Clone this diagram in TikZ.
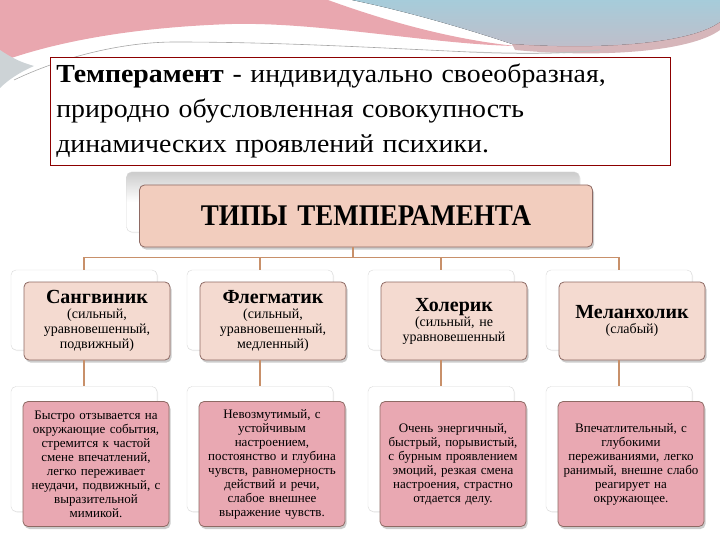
\documentclass[tikz,border=0pt]{standalone}
\usepackage{fontspec}
\setmainfont{Liberation Serif}
\newfontfamily\breitschrift[FakeStretch=1.07]{Liberation Serif}
\newfontfamily\engschrift[FakeStretch=0.9]{Liberation Serif}
\usetikzlibrary{shadows}

\definecolor{linie}{HTML}{C8906A}
\definecolor{rosa}{HTML}{F4DAD0}
\definecolor{titelrosa}{HTML}{F2CDBE}
\definecolor{beschr}{HTML}{E9A8B2}
\definecolor{rand}{HTML}{8E6A64}
\definecolor{rosaoben}{HTML}{E9A7AF}
\definecolor{blauoben}{HTML}{A6CCDA}

\begin{document}
\begin{tikzpicture}[x=1pt,y=-1pt,
  hinten/.style={draw=gray!30, fill=white, rounded corners=5pt,
    minimum width=146pt, drop shadow={shadow xshift=1pt, shadow yshift=-1pt, opacity=.15}},
  vorne/.style={draw=rand, line width=.8pt, rounded corners=5pt, minimum width=146pt,
    align=center, text width=142pt, inner sep=2pt,
    drop shadow={shadow xshift=1.5pt, shadow yshift=-2.5pt, opacity=.4}},
  typ/.style={vorne, fill=rosa, minimum height=78pt, font=\fontsize{14}{15}\selectfont},
  beschreibung/.style={vorne, fill=beschr, minimum height=125pt, font=\fontsize{13}{14}\selectfont},
  verb/.style={draw=linie, line width=1.6pt}]
\def \xs {84}
\def \xp {260}
\def \xc {441}
\def \xm {619}
\useasboundingbox (0,0) rectangle (720,540);

% Dekoration oben
\fill[top color=blauoben, bottom color=blauoben!60!rosaoben] (352,0) -- (720,0) -- (720,22)
  .. controls (690,44) and (600,50) .. (512,44) .. controls (470,30) and (410,12) .. (352,0) -- cycle;
\fill[rosaoben] (0,0) -- (328,0) .. controls (400,26) and (460,40) .. (515,46)
  .. controls (430,44) and (320,22) .. (232,24) .. controls (140,27) and (60,40) .. (0,62) -- cycle;
\fill[rosaoben!80!black, opacity=.6] (512,44) .. controls (600,50) and (690,44) .. (720,22) -- (720,30)
  .. controls (690,52) and (600,58) .. (515,50) -- cycle;
\fill[blauoben!40!gray!45] (0,50) .. controls (12,58) and (20,62) .. (34,66) .. controls (20,72) and (8,80) .. (0,88) -- cycle;
\draw[gray!70, line width=.6pt] (14,80) .. controls (60,58) and (120,42) .. (175,42)
  .. controls (280,42) and (380,48) .. (470,52);
\draw[gray!50, line width=1pt] (470,52) .. controls (520,54) and (560,54) .. (600,50);

% Definition
\node[draw=red!55!black, line width=.6pt, fill=white, anchor=north west, minimum width=620pt,
  minimum height=105pt, text width=608pt, inner xsep=6pt, inner ysep=7pt, align=left,
  font=\breitschrift\fontsize{26}{35}\selectfont, text=black] (def) at (50,57)
  {\textbf{Темперамент} - индивидуально своеобразная,\\
   природно обусловленная совокупность\\
   динамических проявлений психики.};

% Titel
\node[hinten, minimum width=453pt, minimum height=60pt,
  top color=gray!40, bottom color=white, middle color=white] (titelH) at (353,202) {};
\node[vorne, fill=titelrosa, minimum width=453pt, text width=440pt, minimum height=62pt,
  font=\engschrift\fontsize{30}{32}\selectfont\bfseries] (titel) at (366,216) {ТИПЫ ТЕМПЕРАМЕНТА};

% Typen
\foreach \n/\x in {sang/\xs, phleg/\xp, chol/\xc, mel/\xm}
  \node[hinten, minimum height=80pt] (\n H) at (\x,310) {};
\node[typ] (sang) at (\xs+13,321)
  {{\fontsize{20}{22}\selectfont\bfseries Сангвиник}\\(сильный,\\уравновешенный,\\подвижный)};
\node[typ] (phleg) at (\xp+13,321)
  {{\fontsize{20}{22}\selectfont\bfseries Флегматик}\\(сильный,\\уравновешенный,\\медленный)};
\node[typ] (chol) at (\xc+13,321)
  {{\fontsize{20}{22}\selectfont\bfseries Холерик}\\(сильный, не\\уравновешенный};
\node[typ] (mel) at (\xm+13,321)
  {{\fontsize{20}{22}\selectfont\bfseries Меланхолик}\\(слабый)};

% Beschreibungen
\foreach \n/\x in {sang/\xs, phleg/\xp, chol/\xc, mel/\xm}
  \node[hinten, minimum height=125pt] (\n BH) at (\x,449) {};
\node[beschreibung] (sangB) at (\xs+12,464)
  {Быстро отзывается на\\окружающие события,\\стремится к частой\\смене впечатлений,\\легко переживает\\неудачи, подвижный, с\\выразительной\\мимикой.};
\node[beschreibung] (phlegB) at (\xp+12,464)
  {Невозмутимый, с\\устойчивым\\настроением,\\постоянство и глубина\\чувств, равномерность\\действий и речи,\\слабое внешнее\\выражение чувств.};
\node[beschreibung] (cholB) at (\xc+12,464)
  {Очень энергичный,\\быстрый, порывистый,\\с бурным проявлением\\эмоций, резкая смена\\настроения, страстно\\отдается делу.};
\node[beschreibung] (melB) at (\xm+12,464)
  {Впечатлительный, с\\глубокими\\переживаниями, легко\\ранимый, внешне слабо\\реагирует на\\окружающее.};

% Verbindungen
\draw[verb] (titel.south -| titelH) -- ++(0,10) coordinate (knoten);
\draw[verb] (knoten -| sangH) -- (knoten -| melH);
\foreach \n in {sang, phleg, chol, mel} {
  \draw[verb] (knoten -| \n H) -- (\n H.north);
  \draw[verb] (\n.south -| \n H) -- (\n BH.north);
}
\end{tikzpicture}
\end{document}
